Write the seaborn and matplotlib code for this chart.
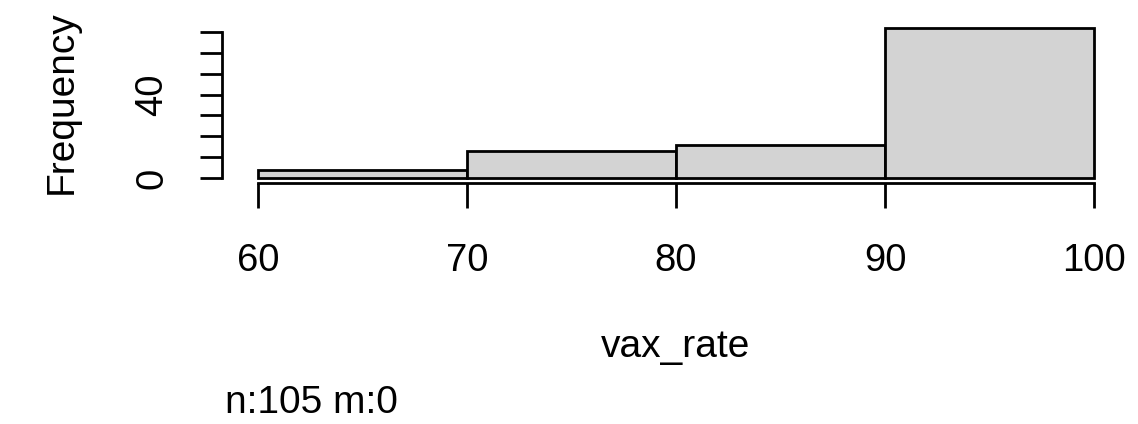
import matplotlib
matplotlib.use("Agg")
import matplotlib.pyplot as plt
import seaborn as sns

# Histogram of vaccination rates: bin edges and counts per bin
bin_edges = [60, 70, 80, 90, 100]
counts = [4, 13, 16, 72]
x_ticks = [60, 70, 80, 90, 100]
y_ticks = [0, 10, 20, 30, 40, 50, 60, 70]
y_tick_labels = ["0", "", "", "", "40", "", "", ""]
x_label = "vax_rate"
y_label = "Frequency"
note = "n:105 m:0"

sns.set_theme(style="white")
plt.rcParams["font.family"] = ["Liberation Sans", "DejaVu Sans"]

W, H, DPI = 1138, 424, 100
LW = 2.0
fig = plt.figure(figsize=(W / DPI, H / DPI), dpi=DPI)
# plot box: x 60..100 over 258..1094 px, y 0..72 over 178..28 px from top
ax = fig.add_axes([258 / W, (H - 178) / H, 836 / W, 150 / H])

mids = [(a + b) / 2 for a, b in zip(bin_edges[:-1], bin_edges[1:])]
sns.histplot(x=mids, weights=counts, bins=bin_edges, ax=ax,
             color="#D3D3D3", alpha=1.0, edgecolor="black", linewidth=LW)

ax.set_xlim(60, 100)
ax.set_ylim(0, 72)
for p in ax.patches:
    p.set_clip_on(False)

for s in ["top", "right"]:
    ax.spines[s].set_visible(False)
ax.spines["left"].set_position(("outward", 26))
ax.spines["bottom"].set_position(("outward", 3.6))
ax.spines["left"].set_bounds(0, 70)
ax.spines["bottom"].set_bounds(60, 100)
for s in ["left", "bottom"]:
    ax.spines[s].set_linewidth(LW)
    ax.spines[s].set_color("black")

ax.set_xticks(x_ticks)
ax.set_xticklabels([str(v) for v in x_ticks])
ax.set_yticks(y_ticks)
ax.set_yticklabels(y_tick_labels, rotation=90, va="center")
ax.tick_params(axis="x", length=18, width=LW, color="black", pad=25,
               labelsize=27.5, labelcolor="black", bottom=True)
ax.tick_params(axis="y", length=16, width=LW, color="black", pad=21,
               labelsize=27.5, labelcolor="black", left=True)

ax.set_xlabel(x_label, fontsize=28, color="black", va="baseline")
ax.xaxis.set_label_coords(0.5, ((H - 357) - (H - 178)) / 150)
ax.set_ylabel(y_label, fontsize=28, color="black", va="center")
ax.yaxis.set_label_coords((62 - 258) / 836, ((H - 102) - (H - 178)) / 150)

fig.text(225 / W, (H - 413) / H, note, fontsize=28, color="black",
         ha="left", va="baseline")

fig.savefig("out.png", dpi=DPI, facecolor="white")
